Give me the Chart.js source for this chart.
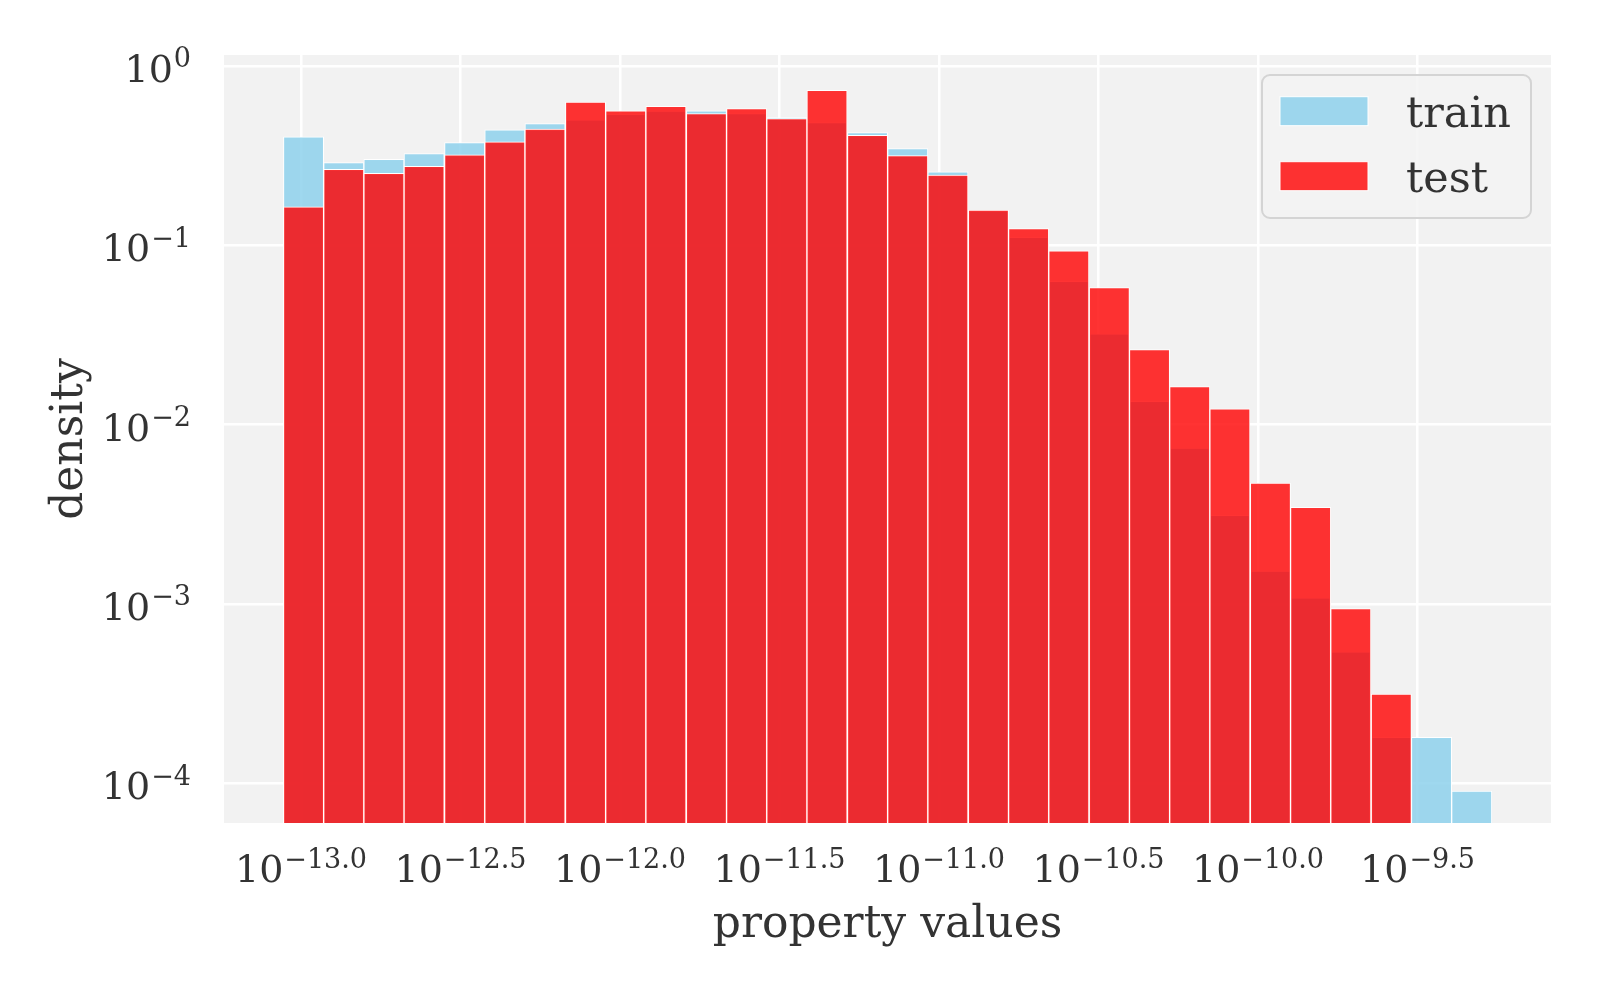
<!DOCTYPE html>
<html>
<head>
<meta charset="utf-8">
<style>
html,body{margin:0;padding:0;background:#ffffff;}
#wrap{width:1600px;height:1000px;position:relative;}
</style>
<script src="https://cdn.jsdelivr.net/npm/chart.js@4.4.0/dist/chart.umd.min.js"></script>
</head>
<body>
<div id="wrap"><canvas id="c"></canvas></div>
<script>
// ---- data (log10 of property value at bin centres; densities) ----
const binCenters = [-12.992, -12.866, -12.740, -12.614, -12.487, -12.361, -12.235, -12.108, -11.982, -11.856,
                    -11.729, -11.603, -11.477, -11.351, -11.224, -11.098, -10.972, -10.845, -10.719, -10.593,
                    -10.466, -10.340, -10.214, -10.088, -9.961, -9.835, -9.709, -9.582, -9.456, -9.330];
const trainDensity = [0.402, 0.289, 0.302, 0.325, 0.374, 0.440, 0.477, 0.500, 0.538, 0.560,
                      0.5615, 0.543, 0.515, 0.484, 0.425, 0.3465, 0.2567, 0.156, 0.1106, 0.0629,
                      0.0321, 0.01349, 0.00738, 0.00312, 0.001523, 0.001078, 0.00054, 0.0001797, 0.00018, 0.0000902];
const testDensity = [0.164, 0.2655, 0.252, 0.276, 0.319, 0.377, 0.444, 0.630, 0.5615, 0.596,
                     0.543, 0.578, 0.509, 0.732, 0.411, 0.3165, 0.246, 0.157, 0.124, 0.0932,
                     0.058, 0.0262, 0.01629, 0.01223, 0.00471, 0.00345, 0.00094, 0.000314, null, null];
const xTickExponents = [-13.0, -12.5, -12.0, -11.5, -11.0, -10.5, -10.0, -9.5];
const yTickExponents = [0, -1, -2, -3, -4];
const seriesNames = ['train', 'test'];
const xLabel = 'property values';
const yLabel = 'density';

// ---- styles ----
const FONT = '"DejaVu Serif", "Liberation Serif", serif';
const TEXT = '#333333';
const TRAIN_COLOR = 'rgba(135,206,235,0.8)';
const TEST_COLOR = 'rgba(255,0,0,0.8)';

function toPoints(vals){ return binCenters.map((x,i)=>({x:x, y:vals[i]})); }

function fmtExp(e){
  const s = Math.abs(e).toFixed(1);
  return (e < 0 ? '\u2212' : '') + s;
}
function fmtExpInt(e){
  return (e < 0 ? '\u2212' : '') + Math.abs(e);
}

function drawPow(ctx, exp, x, baseline, align){
  const mainFont = '38px ' + FONT, supFont = '27px ' + FONT;
  ctx.font = mainFont; const wm = ctx.measureText('10').width;
  ctx.font = supFont; const ws = ctx.measureText(exp).width;
  const total = wm + 1 + ws;
  let start = align === 'center' ? x - total/2 : x - total;
  ctx.textAlign = 'left'; ctx.textBaseline = 'alphabetic';
  ctx.font = mainFont; ctx.fillText('10', start, baseline);
  ctx.font = supFont; ctx.fillText(exp, start + wm + 1, baseline - 14.5);
}

const decor = {
  id: 'decor',
  beforeDraw(chart){
    const {ctx, chartArea:a} = chart;
    ctx.save();
    ctx.fillStyle = '#f2f2f2';
    ctx.fillRect(a.left, a.top, a.right - a.left, a.bottom - a.top);
    ctx.restore();
  },
  afterDraw(chart){
    const {ctx, chartArea:a, scales} = chart;
    ctx.save();
    ctx.fillStyle = TEXT;
    // x tick labels
    xTickExponents.forEach(e => {
      const px = scales.x.getPixelForValue(e);
      drawPow(ctx, fmtExp(e), px, a.bottom + 59, 'center');
    });
    // y tick labels
    yTickExponents.forEach(e => {
      const py = scales.y.getPixelForValue(Math.pow(10, e));
      drawPow(ctx, fmtExpInt(e), a.left - 33, py + 16, 'right');
    });
    // axis titles
    ctx.font = '44px ' + FONT;
    ctx.textAlign = 'center'; ctx.textBaseline = 'alphabetic';
    ctx.fillText(xLabel, (a.left + a.right)/2, a.bottom + 114);
    ctx.save();
    ctx.translate(82, (a.top + a.bottom)/2);
    ctx.rotate(-Math.PI/2);
    ctx.fillText(yLabel, 0, 0);
    ctx.restore();
    // legend
    const bw = 269, bh = 143;
    const bx = a.right - 20 - bw, by = a.top + 20;
    ctx.beginPath();
    ctx.roundRect(bx, by, bw, bh, 8);
    ctx.fillStyle = 'rgba(242,242,242,0.8)';
    ctx.fill();
    ctx.strokeStyle = '#d4d4d4'; ctx.lineWidth = 2;
    ctx.stroke();
    const colors = [TRAIN_COLOR, TEST_COLOR];
    seriesNames.forEach((name, i) => {
      const py = by + 21.7 + i*65;
      ctx.fillStyle = '#f2f2f2';
      ctx.fillRect(bx + 18, py, 88, 29);
      ctx.fillStyle = colors[i];
      ctx.fillRect(bx + 18, py, 88, 29);
      ctx.strokeStyle = '#ffffff'; ctx.lineWidth = 1;
      ctx.strokeRect(bx + 18, py, 88, 29);
      ctx.fillStyle = TEXT;
      ctx.font = '43px ' + FONT;
      ctx.textAlign = 'left'; ctx.textBaseline = 'alphabetic';
      ctx.fillText(name, bx + 144, py + 30);
    });
    ctx.restore();
  }
};

new Chart(document.getElementById('c'), {
  type: 'bar',
  data: {
    datasets: [
      { label: seriesNames[0], data: toPoints(trainDensity), backgroundColor: TRAIN_COLOR,
        borderColor: '#ffffff', borderWidth: 1, order: 2, grouped: false,
        barPercentage: 1.0, categoryPercentage: 1.0 },
      { label: seriesNames[1], data: toPoints(testDensity), backgroundColor: TEST_COLOR,
        borderColor: '#ffffff', borderWidth: 1, order: 1, grouped: false,
        barPercentage: 1.0, categoryPercentage: 1.0 }
    ]
  },
  options: {
    responsive: true,
    maintainAspectRatio: false,
    devicePixelRatio: 1,
    animation: false,
    layout: { padding: { left: 224, top: 55, right: 49, bottom: 177 } },
    plugins: { legend: { display: false }, tooltip: { enabled: false } },
    scales: {
      x: {
        type: 'linear',
        min: -13.2414, max: -9.0815,
        offset: false,
        afterBuildTicks: s => { s.ticks = xTickExponents.map(v => ({value: v})); },
        ticks: { display: false },
        grid: { color: '#ffffff', lineWidth: 2.5, drawTicks: false, offset: false },
        border: { display: false }
      },
      y: {
        type: 'logarithmic',
        min: Math.pow(10, -4.2228), max: Math.pow(10, 0.0613),
        afterBuildTicks: s => { s.ticks = yTickExponents.map(e => ({value: Math.pow(10, e)})); },
        ticks: { display: false },
        grid: { color: '#ffffff', lineWidth: 2.5, drawTicks: false },
        border: { display: false }
      }
    }
  },
  plugins: [decor]
});
</script>
</body>
</html>
